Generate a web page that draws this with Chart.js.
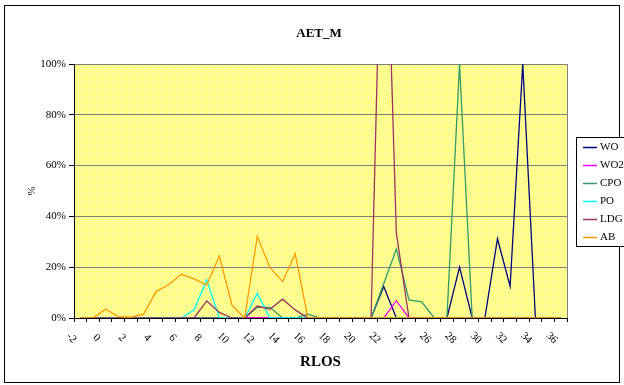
<!DOCTYPE html>
<html>
<head>
<meta charset="utf-8">
<script src="https://cdn.jsdelivr.net/npm/chart.js@4.4.0/dist/chart.umd.min.js"></script>
<style>
  body { margin: 0; background: #fff; }
  canvas { display: block; }
</style>
</head>
<body>
<canvas id="aet" width="624" height="385"></canvas>
<script>
// RLOS categories
const rlos = [-2, -1, 0, 1, 2, 3, 4, 5, 6, 7, 8, 9, 10, 11, 12, 13, 14, 15, 16, 17, 18,
  19, 20, 21, 22, 23, 24, 25, 26, 27, 28, 29, 30, 31, 32, 33, 34, 35, 36];
const xTickLabels = ['-2', '0', '2', '4', '6', '8', '10', '12', '14', '16', '18', '20',
  '22', '24', '26', '28', '30', '32', '34', '36'];

// shares in %, one value per RLOS
const wo = [0, 0, 0, 0, 0, 0, 0, 0, 0, 0, 0, 0, 0, 0, 0, 0, 0, 0, 0, 0, 0, 0, 0, 0,
  12.4, 0, 0, 0, 0, 0, 20, 0, 0, 31.2, 12.4, 100, 0, 0, 0];
const wo2 = [0, 0, 0, 0, 0, 0, 0, 0, 0, 0, 0, 0, 0, 0, 0, 0, 0, 0, 0, 0, 0, 0, 0, 0,
  0, 6.8, 0, 0, 0, 0, 0, 0, 0, 0, 0, 0, 0, 0, 0];
const cpo = [0, 0, 0, 0, 0, 0, 0, 0, 0, 0, 0, 0, 0, 0, 4.2, 4.2, 0, 0, 1.5, 0, 0, 0, 0, 0,
  13.5, 27.2, 7.1, 6.4, 0, 0, 100, 0, 0, 0, 0, 0, 0, 0, 0];
const po = [0, 0, 0, 0, 0, 0, 0, 0, 0, 3.2, 15, 0, 0, 0, 9.7, 0, 0, 0, 0, 0, 0, 0, 0, 0,
  0, 0, 0, 0, 0, 0, 0, 0, 0, 0, 0, 0, 0, 0, 0];
const ldg = [0, 0, 0, 0, 0, 0, 0, 0, 0, 0, 6.7, 2.2, 0, 0, 4.7, 3.4, 7.4, 3.2, 0, 0, 0, 0, 0, 0,
  200, 33.5, 0, 0, 0, 0, 0, 0, 0, 0, 0, 0, 0, 0, 0];
const ab = [0, 0, 3.5, 0.5, 0.3, 1.5, 10.4, 13.2, 17.2, 15.4, 13, 24.4, 5, 0, 32.1, 19.9, 14.3, 25.3,
  0, 0, 0, 0, 0, 0, 0, 0, 0, 0, 0, 0, 0, 0, 0, 0, 0, 0, 0, 0, 0];

const serif = 'Liberation Serif';

// dotted yellow fill for the plot area
const tile = document.createElement('canvas');
tile.width = 4;
tile.height = 4;
const tctx = tile.getContext('2d');
tctx.fillStyle = '#ffff80';
tctx.fillRect(0, 0, 4, 4);
tctx.fillStyle = '#ffffff';
tctx.fillRect(0, 0, 1, 1);
tctx.fillRect(2, 2, 1, 1);

const plotDecor = {
  id: 'plotDecor',
  beforeDraw(chart) {
    const { ctx, chartArea: a } = chart;
    ctx.save();
    ctx.fillStyle = '#fff';
    ctx.fillRect(0, 0, chart.width, chart.height);
    ctx.fillStyle = ctx.createPattern(tile, 'repeat');
    ctx.fillRect(a.left, a.top, a.right - a.left, a.bottom - a.top);
    ctx.strokeStyle = '#808080';
    ctx.lineWidth = 1;
    ctx.beginPath();
    ctx.moveTo(Math.round(a.right) + 0.5, a.top);
    ctx.lineTo(Math.round(a.right) + 0.5, a.bottom);
    ctx.stroke();
    ctx.restore();
  },
  afterDraw(chart) {
    const { ctx } = chart;
    const x = chart.scales.x;
    ctx.save();

    // title
    ctx.fillStyle = '#000';
    ctx.font = 'bold 13px "' + serif + '"';
    ctx.textAlign = 'center';
    ctx.textBaseline = 'middle';
    ctx.fillText('AET_M', 319, 34);

    // slanted RLOS labels, every second category
    ctx.font = '11px "' + serif + '"';
    xTickLabels.forEach(lbl => {
      const i = rlos.indexOf(Number(lbl));
      const px = x.getPixelForTick(i);
      ctx.save();
      ctx.translate(px - 9, 338);
      ctx.rotate(Math.PI / 4);
      ctx.textAlign = 'center';
      ctx.textBaseline = 'middle';
      ctx.fillText(lbl, 0, 0);
      ctx.restore();
    });

    // outer frame
    ctx.strokeStyle = '#000';
    ctx.lineWidth = 1;
    ctx.strokeRect(4.5, 5.5, 615, 377);

    // legend
    ctx.fillStyle = '#fff';
    ctx.fillRect(576.5, 137.5, 60, 109);
    ctx.strokeRect(576.5, 137.5, 60, 109);
    ctx.font = '11px "' + serif + '"';
    ctx.textAlign = 'left';
    chart.data.datasets.forEach((ds, i) => {
      const y = Math.round(146.7 + i * 18.1) + 0.5;
      ctx.strokeStyle = ds.borderColor;
      ctx.lineWidth = 1.5;
      ctx.beginPath();
      ctx.moveTo(583, y);
      ctx.lineTo(597, y);
      ctx.stroke();
      ctx.fillStyle = '#000';
      ctx.fillText(ds.label, 600, y);
    });
    ctx.restore();
  }
};

const series = [
  { label: 'WO', data: wo, color: '#000080' },
  { label: 'WO2', data: wo2, color: '#ff00ff' },
  { label: 'CPO', data: cpo, color: '#339966' },
  { label: 'PO', data: po, color: '#00ffff' },
  { label: 'LDG', data: ldg, color: '#993366' },
  { label: 'AB', data: ab, color: '#ff9900' }
];

new Chart(document.getElementById('aet'), {
  type: 'line',
  data: {
    labels: rlos,
    datasets: series.map((s, i) => ({
      label: s.label,
      data: s.data,
      borderColor: s.color,
      backgroundColor: s.color,
      borderWidth: 1.3,
      pointRadius: 0,
      tension: 0,
      order: series.length - 1 - i
    }))
  },
  options: {
    responsive: false,
    animation: false,
    devicePixelRatio: 1,
    layout: { padding: { top: 64, right: 57, left: 0, bottom: 0 } },
    scales: {
      x: {
        offset: true,
        afterFit: s => { s.height = 67; },
        grid: { offset: true, drawOnChartArea: false, tickLength: 4, tickColor: '#000' },
        border: { color: '#000' },
        ticks: { display: false, autoSkip: false },
        title: {
          display: true,
          text: 'RLOS',
          color: '#000',
          font: { family: serif, size: 15, weight: 'bold' },
          padding: { top: 0, bottom: 14 }
        }
      },
      y: {
        min: 0,
        max: 100,
        afterFit: s => { s.width = 74; },
        grid: { color: '#808080', tickLength: 5, tickColor: '#000' },
        border: { color: '#000' },
        ticks: {
          stepSize: 20,
          padding: 3,
          color: '#000',
          font: { family: serif, size: 11 },
          callback: v => v + '%'
        },
        title: {
          display: true,
          text: '%',
          color: '#000',
          font: { family: serif, size: 11 },
          padding: { top: 26, bottom: 0 }
        }
      }
    },
    plugins: {
      legend: { display: false },
      tooltip: { enabled: false }
    }
  },
  plugins: [plotDecor]
});
</script>
</body>
</html>
